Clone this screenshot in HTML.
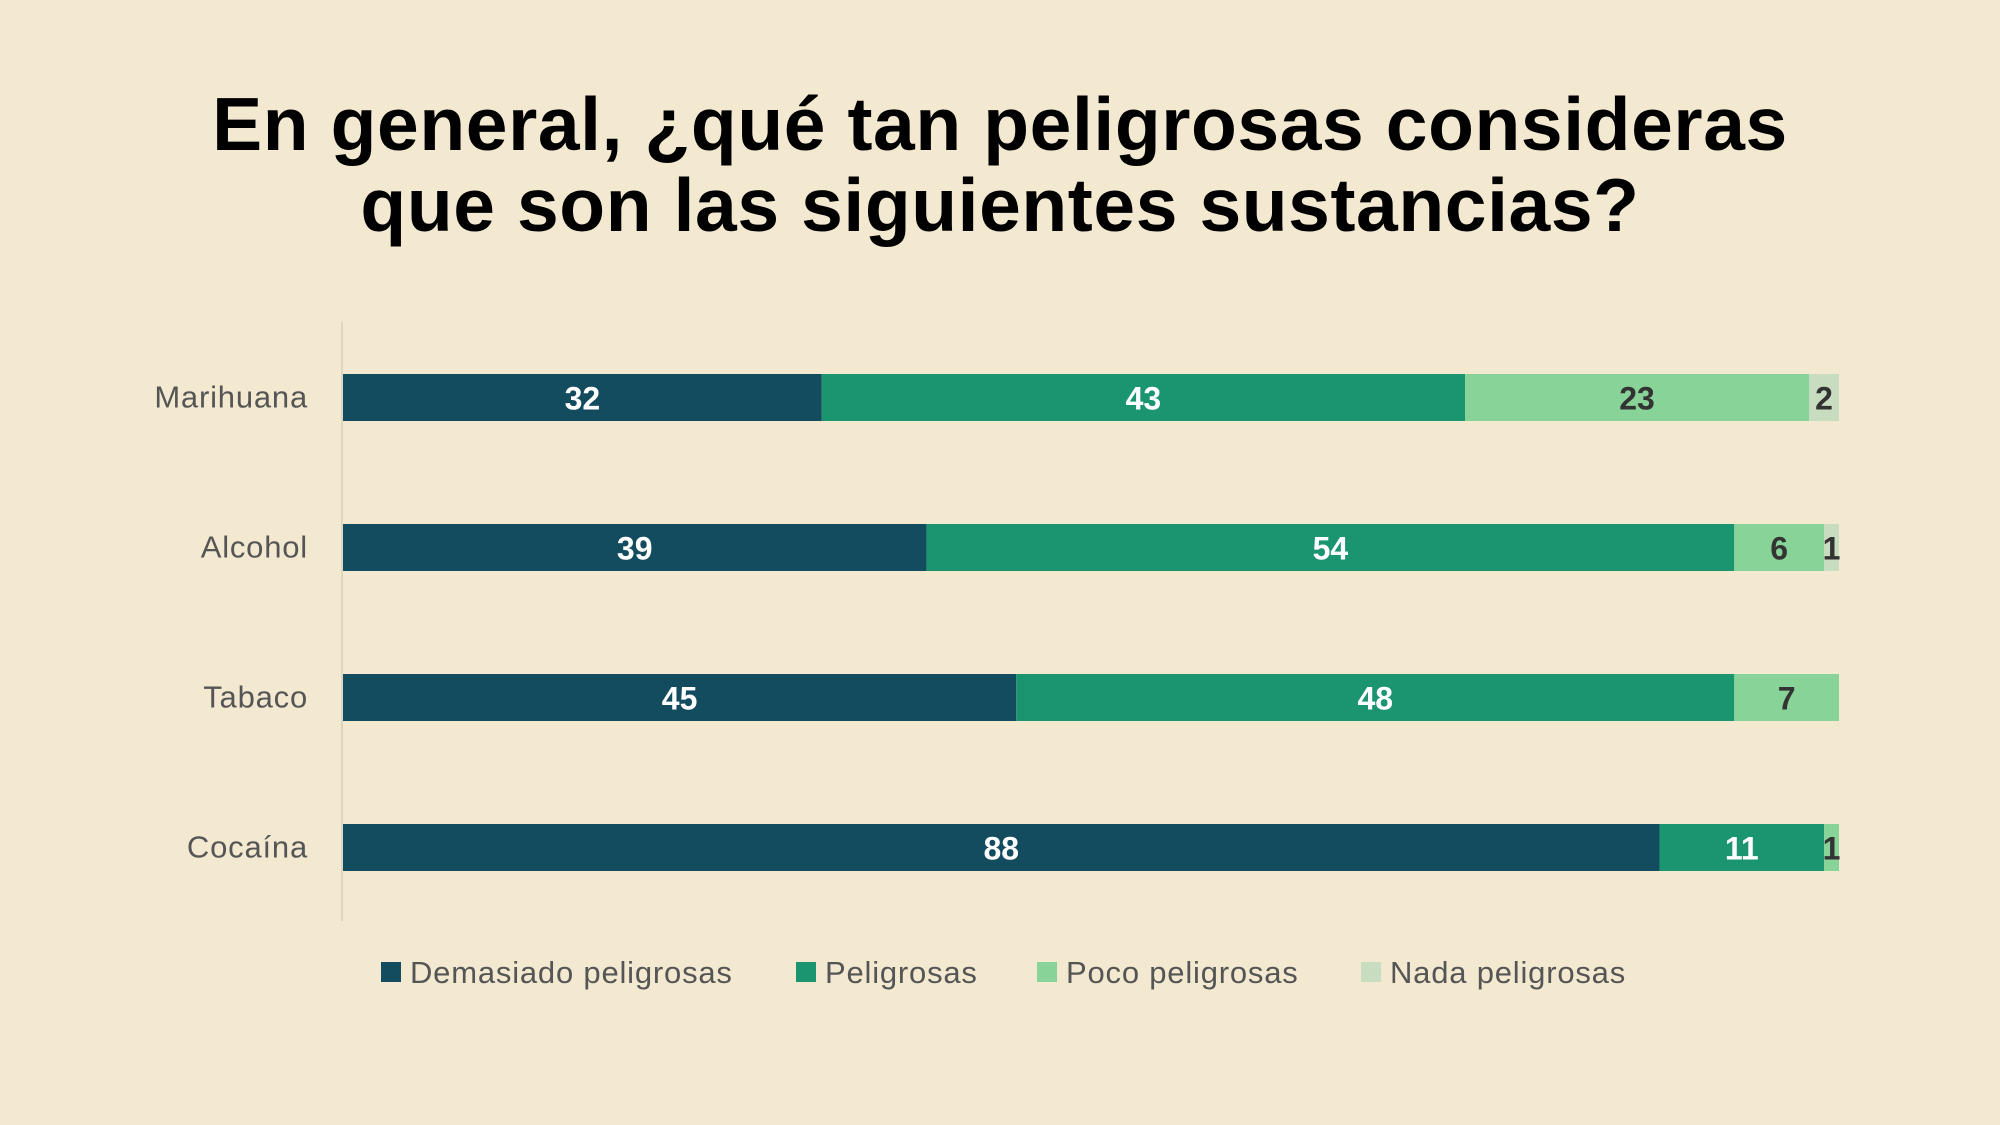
<!DOCTYPE html>
<html><head><meta charset="utf-8"><style>
body{margin:0;background:#f3e9d1;}
svg{display:block;font-family:"Liberation Sans",sans-serif;}
</style></head><body>
<svg id="chart" width="2000" height="1125" viewBox="0 0 2000 1125" xmlns="http://www.w3.org/2000/svg">
<rect width="2000" height="1125" fill="#f3e9d1"/>
<text x="1000" y="150" text-anchor="middle" font-size="75" font-weight="bold" fill="#000" letter-spacing="0.6">En general, ¿qué tan peligrosas consideras</text>
<text x="1000" y="231" text-anchor="middle" font-size="75" font-weight="bold" fill="#000" letter-spacing="0.6">que son las siguientes sustancias?</text>
<line x1="342" y1="322" x2="342" y2="921" stroke="#ddd5bf" stroke-width="2"/>
<g id="bars"></g>
<g id="legend"></g>
</svg>
<script>
const categories = ["Marihuana","Alcohol","Tabaco","Cocaína"];
const seriesNames = ["Demasiado peligrosas","Peligrosas","Poco peligrosas","Nada peligrosas"];
const demasiado = [32,39,45,88];
const peligrosas = [43,54,48,11];
const poco = [23,6,7,1];
const nada = [2,1,0,0];
const series = [demasiado, peligrosas, poco, nada];
const colors = ["#134b5f","#1b9470","#88d498","#c8dcbf"];
const textColors = ["#fff","#fff","#333","#333"];
const NS = "http://www.w3.org/2000/svg";
const x0 = 343, x1 = 1839, barTop0 = 374, barStep = 150, barH = 47;
const total = i => series.reduce((s,a)=>s+a[i],0);
const xScale = (v,i) => x0 + v/total(i)*(x1-x0);
const bars = document.getElementById('bars');
categories.forEach((c,i)=>{
  const y = barTop0 + i*barStep;
  const lab = document.createElementNS(NS,'text');
  lab.setAttribute('x',308);lab.setAttribute('y',y+barH/2+10);
  lab.setAttribute('text-anchor','end');lab.setAttribute('font-size','31');lab.setAttribute('fill','#555');
  lab.setAttribute('letter-spacing','0.8');
  lab.textContent = c;
  
  
  bars.appendChild(lab);
  let cum = 0;
  series.forEach((s,k)=>{
    const v = s[i]; if(!v) return;
    const xa = xScale(cum,i), xb = xScale(cum+v,i);
    const r = document.createElementNS(NS,'rect');
    r.setAttribute('x',xa);r.setAttribute('y',y);r.setAttribute('width',xb-xa);r.setAttribute('height',barH);
    r.setAttribute('fill',colors[k]);
    
    
    bars.appendChild(r);
    const t = document.createElementNS(NS,'text');
    t.setAttribute('x',(xa+xb)/2);t.setAttribute('y',y+barH/2+12);
    t.setAttribute('text-anchor','middle');t.setAttribute('font-size','32');t.setAttribute('font-weight','bold');
    t.setAttribute('fill',textColors[k]);
    t.textContent = v;
    
    
    bars.appendChild(t);
    cum += v;
  });
});
const legend = document.getElementById('legend');
const legX = [381,796,1037,1361];
seriesNames.forEach((n,k)=>{
  const g = document.createElementNS(NS,'g');
  
  
  const r = document.createElementNS(NS,'rect');
  r.setAttribute('x',legX[k]);r.setAttribute('y',962);r.setAttribute('width',20);r.setAttribute('height',20);
  r.setAttribute('fill',colors[k]);
  
  
  const t = document.createElementNS(NS,'text');
  t.setAttribute('x',legX[k]+29);t.setAttribute('y',983);t.setAttribute('font-size','31');t.setAttribute('fill','#555');
  t.setAttribute('letter-spacing','0.8');
  t.textContent = n;
  
  
  g.appendChild(r);g.appendChild(t);legend.appendChild(g);
});
</script>
</body></html>
